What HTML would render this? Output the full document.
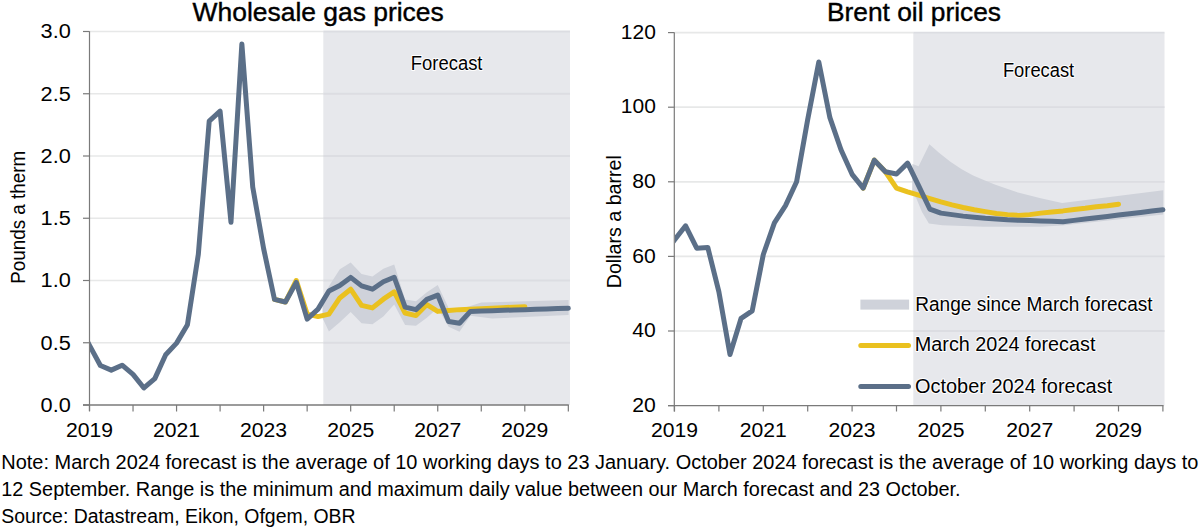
<!DOCTYPE html><html><head><meta charset="utf-8"><style>
html,body{margin:0;padding:0;background:#fff;width:1200px;height:529px;overflow:hidden}
svg{display:block;font-family:"Liberation Sans", sans-serif}
</style></head><body>
<svg width="1200" height="529" viewBox="0 0 1200 529">
<defs><clipPath id="cl"><rect x="90" y="0" width="490" height="420"/></clipPath><clipPath id="cr"><rect x="675" y="0" width="500" height="420"/></clipPath></defs>
<rect x="323.3" y="31.3" width="246.70" height="373.70" fill="#e7e8ec"/>
<line x1="90" y1="342.75" x2="323.3" y2="342.75" stroke="#e7e8e8" stroke-width="1.7"/>
<line x1="323.3" y1="342.75" x2="570" y2="342.75" stroke="#dcdde2" stroke-width="1.8"/>
<line x1="90" y1="280.50" x2="323.3" y2="280.50" stroke="#e7e8e8" stroke-width="1.7"/>
<line x1="323.3" y1="280.50" x2="570" y2="280.50" stroke="#dcdde2" stroke-width="1.8"/>
<line x1="90" y1="218.25" x2="323.3" y2="218.25" stroke="#e7e8e8" stroke-width="1.7"/>
<line x1="323.3" y1="218.25" x2="570" y2="218.25" stroke="#dcdde2" stroke-width="1.8"/>
<line x1="90" y1="156.00" x2="323.3" y2="156.00" stroke="#e7e8e8" stroke-width="1.7"/>
<line x1="323.3" y1="156.00" x2="570" y2="156.00" stroke="#dcdde2" stroke-width="1.8"/>
<line x1="90" y1="93.75" x2="323.3" y2="93.75" stroke="#e7e8e8" stroke-width="1.7"/>
<line x1="323.3" y1="93.75" x2="570" y2="93.75" stroke="#dcdde2" stroke-width="1.8"/>
<line x1="90" y1="31.50" x2="323.3" y2="31.50" stroke="#e7e8e8" stroke-width="1.7"/>
<line x1="323.3" y1="31.50" x2="570" y2="31.50" stroke="#dcdde2" stroke-width="1.8"/>
<polygon points="322.50,300.00 328.92,286.35 339.80,269.29 350.68,262.45 361.56,273.90 372.44,276.52 383.33,268.80 394.21,264.56 405.09,299.42 415.98,301.17 426.86,292.20 437.74,284.98 448.62,307.89 459.50,308.89 470.39,305.90 481.27,302.54 568.60,299.92 568.60,315.11 492.15,318.47 470.39,315.86 459.50,331.79 448.62,326.69 437.74,307.89 426.86,317.85 415.98,325.82 405.09,324.95 394.21,304.53 383.33,316.61 372.44,324.20 361.56,323.33 350.68,312.12 339.80,322.21 328.92,331.55 322.50,318.00" fill="#cfd2da"/>
<polyline points="274.50,299.42 285.38,302.04 296.27,280.50 307.15,314.12 318.03,316.61 328.92,314.12 339.80,297.93 350.68,289.21 361.56,305.40 372.44,307.89 383.33,299.18 394.21,291.83 405.09,312.99 415.98,315.61 426.86,304.53 437.74,311.38 448.62,310.50 459.50,309.63 470.39,309.13 481.27,308.64 492.15,308.14 503.04,307.64 513.92,307.14 524.80,306.64" fill="none" stroke="#eac11f" stroke-width="5.0" stroke-linejoin="round" stroke-linecap="round"/>
<polyline clip-path="url(#cl)" points="78.62,325.20 89.50,345.36 100.38,365.53 111.27,370.14 122.15,365.16 133.03,374.37 143.91,387.94 154.80,378.61 165.68,354.70 176.56,343.12 187.44,324.70 198.32,254.36 209.21,121.14 220.09,111.18 230.97,222.36 241.86,43.95 252.74,187.12 263.62,248.63 274.50,299.42 285.38,302.04 296.27,282.37 307.15,319.10 318.03,309.13 328.92,291.08 339.80,285.48 350.68,277.39 361.56,285.85 372.44,289.21 383.33,281.75 394.21,277.26 405.09,307.14 415.98,309.63 426.86,299.42 437.74,295.07 448.62,321.58 459.50,323.20 470.39,311.38 481.27,311.03 492.15,310.68 503.04,310.34 513.92,309.99 524.80,309.65 535.68,309.30 546.57,308.96 557.45,308.61 568.33,308.26" fill="none" stroke="#5b6f88" stroke-width="5.0" stroke-linejoin="round" stroke-linecap="round"/>
<line x1="89.50" y1="31.3" x2="89.50" y2="411" stroke="#7a7a7a" stroke-width="1.2"/>
<line x1="83" y1="405.00" x2="568.8" y2="405.00" stroke="#7a7a7a" stroke-width="1.4"/>
<line x1="83" y1="405.00" x2="89.50" y2="405.00" stroke="#7a7a7a" stroke-width="1.2"/>
<line x1="83" y1="342.75" x2="89.50" y2="342.75" stroke="#7a7a7a" stroke-width="1.2"/>
<line x1="83" y1="280.50" x2="89.50" y2="280.50" stroke="#7a7a7a" stroke-width="1.2"/>
<line x1="83" y1="218.25" x2="89.50" y2="218.25" stroke="#7a7a7a" stroke-width="1.2"/>
<line x1="83" y1="156.00" x2="89.50" y2="156.00" stroke="#7a7a7a" stroke-width="1.2"/>
<line x1="83" y1="93.75" x2="89.50" y2="93.75" stroke="#7a7a7a" stroke-width="1.2"/>
<line x1="83" y1="31.50" x2="89.50" y2="31.50" stroke="#7a7a7a" stroke-width="1.2"/>
<line x1="89.50" y1="405.00" x2="89.50" y2="411.5" stroke="#7a7a7a" stroke-width="1.2"/>
<line x1="133.03" y1="405.00" x2="133.03" y2="411.5" stroke="#7a7a7a" stroke-width="1.2"/>
<line x1="176.56" y1="405.00" x2="176.56" y2="411.5" stroke="#7a7a7a" stroke-width="1.2"/>
<line x1="220.09" y1="405.00" x2="220.09" y2="411.5" stroke="#7a7a7a" stroke-width="1.2"/>
<line x1="263.62" y1="405.00" x2="263.62" y2="411.5" stroke="#7a7a7a" stroke-width="1.2"/>
<line x1="307.15" y1="405.00" x2="307.15" y2="411.5" stroke="#7a7a7a" stroke-width="1.2"/>
<line x1="350.68" y1="405.00" x2="350.68" y2="411.5" stroke="#7a7a7a" stroke-width="1.2"/>
<line x1="394.21" y1="405.00" x2="394.21" y2="411.5" stroke="#7a7a7a" stroke-width="1.2"/>
<line x1="437.74" y1="405.00" x2="437.74" y2="411.5" stroke="#7a7a7a" stroke-width="1.2"/>
<line x1="481.27" y1="405.00" x2="481.27" y2="411.5" stroke="#7a7a7a" stroke-width="1.2"/>
<line x1="524.80" y1="405.00" x2="524.80" y2="411.5" stroke="#7a7a7a" stroke-width="1.2"/>
<line x1="568.33" y1="405.00" x2="568.33" y2="411.5" stroke="#7a7a7a" stroke-width="1.2"/>
<rect x="913.3" y="32.6" width="251.20" height="373.00" fill="#e7e8ec"/>
<line x1="675" y1="331.00" x2="913.3" y2="331.00" stroke="#e7e8e8" stroke-width="1.7"/>
<line x1="913.3" y1="331.00" x2="1164.5" y2="331.00" stroke="#dcdde2" stroke-width="1.8"/>
<line x1="675" y1="256.40" x2="913.3" y2="256.40" stroke="#e7e8e8" stroke-width="1.7"/>
<line x1="913.3" y1="256.40" x2="1164.5" y2="256.40" stroke="#dcdde2" stroke-width="1.8"/>
<line x1="675" y1="181.80" x2="913.3" y2="181.80" stroke="#e7e8e8" stroke-width="1.7"/>
<line x1="913.3" y1="181.80" x2="1164.5" y2="181.80" stroke="#dcdde2" stroke-width="1.8"/>
<line x1="675" y1="107.20" x2="913.3" y2="107.20" stroke="#e7e8e8" stroke-width="1.7"/>
<line x1="913.3" y1="107.20" x2="1164.5" y2="107.20" stroke="#dcdde2" stroke-width="1.8"/>
<line x1="675" y1="32.60" x2="913.3" y2="32.60" stroke="#e7e8e8" stroke-width="1.7"/>
<line x1="913.3" y1="32.60" x2="1164.5" y2="32.60" stroke="#dcdde2" stroke-width="1.8"/>
<polygon points="912.40,164.00 918.60,166.30 929.40,144.20 939.00,152.70 950.40,161.80 961.70,169.20 973.10,175.40 985.00,180.50 995.40,184.70 1018.00,192.60 1040.70,198.30 1062.10,203.10 1163.30,190.20 1163.30,214.40 1062.00,225.50 1040.00,226.70 984.00,226.70 942.40,225.20 928.90,223.60 922.00,212.00 916.40,198.60 912.20,193.00" fill="#cfd2da"/>
<polyline points="863.20,188.14 874.30,160.17 885.40,171.73 896.50,188.14 907.60,191.87 918.70,195.23 929.80,198.59 940.90,201.94 952.00,204.93 963.10,207.54 974.20,209.78 985.30,211.64 996.40,213.51 1007.50,214.62 1018.60,215.37 1029.70,214.62 1040.80,213.13 1051.90,212.01 1063.00,210.89 1074.10,209.40 1085.20,208.28 1096.30,206.79 1107.40,205.67 1118.50,204.18" fill="none" stroke="#eac11f" stroke-width="5.0" stroke-linejoin="round" stroke-linecap="round"/>
<polyline clip-path="url(#cr)" points="663.40,254.16 674.50,239.99 685.60,225.81 696.70,248.19 707.80,247.45 718.90,291.84 730.00,354.50 741.10,318.32 752.20,310.86 763.30,254.54 774.40,222.83 785.50,205.67 796.60,181.80 807.70,119.51 818.80,62.07 829.90,117.64 841.00,149.72 852.10,174.34 863.20,188.14 874.30,160.17 885.40,171.73 896.50,173.97 907.60,163.15 918.70,185.90 929.80,209.03 940.90,213.13 952.00,214.62 963.10,216.12 974.20,217.24 985.30,218.35 996.40,219.10 1007.50,219.85 1018.60,220.22 1029.70,220.59 1040.80,220.97 1051.90,221.34 1063.00,221.71 1074.10,220.38 1085.20,219.06 1096.30,217.73 1107.40,216.41 1118.50,215.08 1129.60,213.75 1140.70,212.43 1151.80,211.10 1162.90,209.78" fill="none" stroke="#5b6f88" stroke-width="5.0" stroke-linejoin="round" stroke-linecap="round"/>
<line x1="674.30" y1="32.6" x2="674.30" y2="411.5" stroke="#7a7a7a" stroke-width="1.2"/>
<line x1="668" y1="405.60" x2="1163.5" y2="405.60" stroke="#7a7a7a" stroke-width="1.4"/>
<line x1="668" y1="405.60" x2="674.50" y2="405.60" stroke="#7a7a7a" stroke-width="1.2"/>
<line x1="668" y1="331.00" x2="674.50" y2="331.00" stroke="#7a7a7a" stroke-width="1.2"/>
<line x1="668" y1="256.40" x2="674.50" y2="256.40" stroke="#7a7a7a" stroke-width="1.2"/>
<line x1="668" y1="181.80" x2="674.50" y2="181.80" stroke="#7a7a7a" stroke-width="1.2"/>
<line x1="668" y1="107.20" x2="674.50" y2="107.20" stroke="#7a7a7a" stroke-width="1.2"/>
<line x1="668" y1="32.60" x2="674.50" y2="32.60" stroke="#7a7a7a" stroke-width="1.2"/>
<line x1="674.50" y1="405.60" x2="674.50" y2="411.5" stroke="#7a7a7a" stroke-width="1.2"/>
<line x1="718.90" y1="405.60" x2="718.90" y2="411.5" stroke="#7a7a7a" stroke-width="1.2"/>
<line x1="763.30" y1="405.60" x2="763.30" y2="411.5" stroke="#7a7a7a" stroke-width="1.2"/>
<line x1="807.70" y1="405.60" x2="807.70" y2="411.5" stroke="#7a7a7a" stroke-width="1.2"/>
<line x1="852.10" y1="405.60" x2="852.10" y2="411.5" stroke="#7a7a7a" stroke-width="1.2"/>
<line x1="896.50" y1="405.60" x2="896.50" y2="411.5" stroke="#7a7a7a" stroke-width="1.2"/>
<line x1="940.90" y1="405.60" x2="940.90" y2="411.5" stroke="#7a7a7a" stroke-width="1.2"/>
<line x1="985.30" y1="405.60" x2="985.30" y2="411.5" stroke="#7a7a7a" stroke-width="1.2"/>
<line x1="1029.70" y1="405.60" x2="1029.70" y2="411.5" stroke="#7a7a7a" stroke-width="1.2"/>
<line x1="1074.10" y1="405.60" x2="1074.10" y2="411.5" stroke="#7a7a7a" stroke-width="1.2"/>
<line x1="1118.50" y1="405.60" x2="1118.50" y2="411.5" stroke="#7a7a7a" stroke-width="1.2"/>
<line x1="1162.90" y1="405.60" x2="1162.90" y2="411.5" stroke="#7a7a7a" stroke-width="1.2"/>
<rect x="860.4" y="299.6" width="48.7" height="10" fill="#cfd2da"/>
<line x1="860.8" y1="345.4" x2="908.5" y2="345.4" stroke="#eac11f" stroke-width="5" stroke-linecap="round"/>
<line x1="860.8" y1="386.6" x2="908.5" y2="386.6" stroke="#5b6f88" stroke-width="5" stroke-linecap="round"/>
<text x="192.60" y="21.30" font-size="26.50" font-weight="normal" fill="#000000" textLength="251.10" lengthAdjust="spacingAndGlyphs" stroke="#000" stroke-width="0.4">Wholesale gas prices</text>
<text x="827.00" y="21.00" font-size="26.50" font-weight="normal" fill="#000000" textLength="174.00" lengthAdjust="spacingAndGlyphs" stroke="#000" stroke-width="0.4">Brent oil prices</text>
<text x="410.80" y="69.80" font-size="20.00" font-weight="normal" fill="#000000" textLength="71.70" lengthAdjust="spacingAndGlyphs" stroke="#ffffff" stroke-width="2" paint-order="stroke" stroke-linejoin="round">Forecast</text>
<text x="1002.90" y="77.30" font-size="20.00" font-weight="normal" fill="#000000" textLength="71.30" lengthAdjust="spacingAndGlyphs" stroke="#ffffff" stroke-width="2" paint-order="stroke" stroke-linejoin="round">Forecast</text>
<text x="70.8" y="411.80" font-size="20.0" fill="#000000" text-anchor="end" textLength="30.2" lengthAdjust="spacingAndGlyphs">0.0</text>
<text x="70.8" y="349.55" font-size="20.0" fill="#000000" text-anchor="end" textLength="30.2" lengthAdjust="spacingAndGlyphs">0.5</text>
<text x="70.8" y="287.30" font-size="20.0" fill="#000000" text-anchor="end" textLength="30.2" lengthAdjust="spacingAndGlyphs">1.0</text>
<text x="70.8" y="225.05" font-size="20.0" fill="#000000" text-anchor="end" textLength="30.2" lengthAdjust="spacingAndGlyphs">1.5</text>
<text x="70.8" y="162.80" font-size="20.0" fill="#000000" text-anchor="end" textLength="30.2" lengthAdjust="spacingAndGlyphs">2.0</text>
<text x="70.8" y="100.55" font-size="20.0" fill="#000000" text-anchor="end" textLength="30.2" lengthAdjust="spacingAndGlyphs">2.5</text>
<text x="70.8" y="38.30" font-size="20.0" fill="#000000" text-anchor="end" textLength="30.2" lengthAdjust="spacingAndGlyphs">3.0</text>
<text x="655.8" y="411.80" font-size="20.0" fill="#000000" text-anchor="end" textLength="23.5" lengthAdjust="spacingAndGlyphs">20</text>
<text x="655.8" y="337.20" font-size="20.0" fill="#000000" text-anchor="end" textLength="23.5" lengthAdjust="spacingAndGlyphs">40</text>
<text x="655.8" y="262.60" font-size="20.0" fill="#000000" text-anchor="end" textLength="23.5" lengthAdjust="spacingAndGlyphs">60</text>
<text x="655.8" y="188.00" font-size="20.0" fill="#000000" text-anchor="end" textLength="23.5" lengthAdjust="spacingAndGlyphs">80</text>
<text x="655.8" y="113.40" font-size="20.0" fill="#000000" text-anchor="end" textLength="35.0" lengthAdjust="spacingAndGlyphs">100</text>
<text x="655.8" y="38.80" font-size="20.0" fill="#000000" text-anchor="end" textLength="35.0" lengthAdjust="spacingAndGlyphs">120</text>
<text x="66.00" y="437.0" font-size="20.0" fill="#000000" textLength="47" lengthAdjust="spacingAndGlyphs">2019</text>
<text x="651.00" y="437.3" font-size="20.0" fill="#000000" textLength="47" lengthAdjust="spacingAndGlyphs">2019</text>
<text x="153.06" y="437.0" font-size="20.0" fill="#000000" textLength="47" lengthAdjust="spacingAndGlyphs">2021</text>
<text x="739.80" y="437.3" font-size="20.0" fill="#000000" textLength="47" lengthAdjust="spacingAndGlyphs">2021</text>
<text x="240.12" y="437.0" font-size="20.0" fill="#000000" textLength="47" lengthAdjust="spacingAndGlyphs">2023</text>
<text x="828.60" y="437.3" font-size="20.0" fill="#000000" textLength="47" lengthAdjust="spacingAndGlyphs">2023</text>
<text x="327.18" y="437.0" font-size="20.0" fill="#000000" textLength="47" lengthAdjust="spacingAndGlyphs">2025</text>
<text x="917.40" y="437.3" font-size="20.0" fill="#000000" textLength="47" lengthAdjust="spacingAndGlyphs">2025</text>
<text x="414.24" y="437.0" font-size="20.0" fill="#000000" textLength="47" lengthAdjust="spacingAndGlyphs">2027</text>
<text x="1006.20" y="437.3" font-size="20.0" fill="#000000" textLength="47" lengthAdjust="spacingAndGlyphs">2027</text>
<text x="501.30" y="437.0" font-size="20.0" fill="#000000" textLength="47" lengthAdjust="spacingAndGlyphs">2029</text>
<text x="1095.00" y="437.3" font-size="20.0" fill="#000000" textLength="47" lengthAdjust="spacingAndGlyphs">2029</text>
<text transform="translate(25,283.8) rotate(-90)" x="0" y="0" font-size="20.0" fill="#000000" textLength="132.9" lengthAdjust="spacingAndGlyphs">Pounds a therm</text>
<text transform="translate(620.5,288.3) rotate(-90)" x="0" y="0" font-size="20.0" fill="#000000" textLength="133.2" lengthAdjust="spacingAndGlyphs">Dollars a barrel</text>
<text x="915.20" y="310.70" font-size="20.00" font-weight="normal" fill="#000000" textLength="237.40" lengthAdjust="spacingAndGlyphs" stroke="#ffffff" stroke-width="2" paint-order="stroke" stroke-linejoin="round">Range since March forecast</text>
<text x="914.80" y="351.30" font-size="20.00" font-weight="normal" fill="#000000" textLength="180.60" lengthAdjust="spacingAndGlyphs" stroke="#ffffff" stroke-width="2" paint-order="stroke" stroke-linejoin="round">March 2024 forecast</text>
<text x="915.00" y="392.60" font-size="20.00" font-weight="normal" fill="#000000" textLength="197.20" lengthAdjust="spacingAndGlyphs" stroke="#ffffff" stroke-width="2" paint-order="stroke" stroke-linejoin="round">October 2024 forecast</text>
<text x="1.30" y="468.80" font-size="19.50" font-weight="normal" fill="#000000" textLength="1197.10" lengthAdjust="spacingAndGlyphs">Note: March 2024 forecast is the average of 10 working days to 23 January. October 2024 forecast is the average of 10 working days to</text>
<text x="1.30" y="495.80" font-size="19.50" font-weight="normal" fill="#000000" textLength="959.30" lengthAdjust="spacingAndGlyphs">12 September. Range is the minimum and maximum daily value between our March forecast and 23 October.</text>
<text x="1.30" y="522.80" font-size="19.50" font-weight="normal" fill="#000000" textLength="354.30" lengthAdjust="spacingAndGlyphs">Source: Datastream, Eikon, Ofgem, OBR</text>
</svg></body></html>
